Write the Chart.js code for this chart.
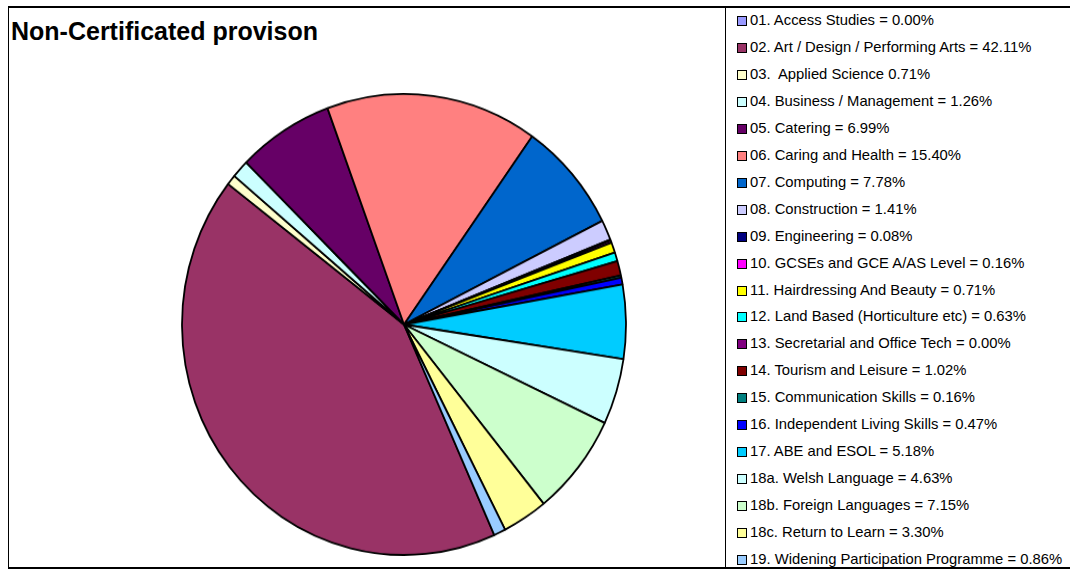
<!DOCTYPE html>
<html lang="en">
<head>
    <meta charset="UTF-8">
    <title>Non-Certificated provison</title>
    <style>
        body {
            margin: 0;
            background: #fff;
            font-family: "Liberation Sans", Arial, sans-serif;
            width: 1070px;
            height: 569px;
            overflow: hidden;
            position: relative;
        }
        .frame {
            position: absolute;
            left: 8px;
            top: 6px;
            width: 1100px;
            height: 559px;
            border-top: 2px solid #000;
            border-bottom: 2px solid #000;
            border-left: 1px solid #000;
        }
        .legend-box {
            position: absolute;
            left: 725px;
            top: 6px;
            height: 563px;
            border-left: 1px solid #000;
        }
        h1 {
            position: absolute;
            left: 11px;
            top: 16px;
            margin: 0;
            font-size: 25px;
            line-height: 30px;
            font-weight: bold;
        }
        #pieWrap {
            position: absolute;
            left: 181px;
            top: 93px;
        }
        #pieChart {
            width: 446px !important;
            height: 463px !important;
        }
        .legend-item {
            position: absolute;
            left: 737px;
            font-size: 14.8px;
            height: 20px;
            line-height: 20px;
            white-space: pre;
        }
        .legend-item span {
            display: inline-block;
            width: 8px;
            height: 8px;
            border: 1.5px solid #000;
            margin-right: 3px;
            vertical-align: -1px;
        }
    </style>
    <script src="https://cdn.jsdelivr.net/npm/chart.js"></script>
</head>
<body>
    <div class="frame"></div>
    <div class="legend-box"></div>
    <h1>Non-Certificated provison</h1>
    <div id="pieWrap"><canvas id="pieChart" width="446" height="446"></canvas></div>
    <div id="legend"></div>

    <script>
        const labels = [
            "01. Access Studies = 0.00%",
            "02. Art / Design / Performing Arts = 42.11%",
            "03.  Applied Science 0.71%",
            "04. Business / Management = 1.26%",
            "05. Catering = 6.99%",
            "06. Caring and Health = 15.40%",
            "07. Computing = 7.78%",
            "08. Construction = 1.41%",
            "09. Engineering = 0.08%",
            "10. GCSEs and GCE A/AS Level = 0.16%",
            "11. Hairdressing And Beauty = 0.71%",
            "12. Land Based (Horticulture etc) = 0.63%",
            "13. Secretarial and Office Tech = 0.00%",
            "14. Tourism and Leisure = 1.02%",
            "15. Communication Skills = 0.16%",
            "16. Independent Living Skills = 0.47%",
            "17. ABE and ESOL = 5.18%",
            "18a. Welsh Language = 4.63%",
            "18b. Foreign Languages = 7.15%",
            "18c. Return to Learn = 3.30%",
            "19. Widening Participation Programme = 0.86%"
        ];

        const shares = [0.00, 42.11, 0.71, 1.26, 6.99, 15.40, 7.78, 1.41, 0.08, 0.16, 0.71,
            0.63, 0.00, 1.02, 0.16, 0.47, 5.18, 4.63, 7.15, 3.30, 0.86];

        const colors = ["#9999FF", "#993366", "#FFFFCC", "#CCFFFF", "#660066", "#FF8080",
            "#0066CC", "#CCCCFF", "#000080", "#FF00FF", "#FFFF00", "#00FFFF", "#800080",
            "#800000", "#008080", "#0000FF", "#00CCFF", "#CCFFFF", "#CCFFCC", "#FFFF99", "#99CCFF"];

        // legend on the right, one row per category
        const legend = document.getElementById('legend');
        labels.forEach((text, i) => {
            const row = document.createElement('div');
            row.className = 'legend-item';
            row.style.top = (10 + i * 26.95) + 'px';
            const box = document.createElement('span');
            box.style.background = colors[i];
            row.appendChild(box);
            row.appendChild(document.createTextNode(text));
            legend.appendChild(row);
        });

        new Chart(document.getElementById('pieChart'), {
            type: 'pie',
            data: {
                labels: labels,
                datasets: [{
                    data: shares,
                    backgroundColor: colors,
                    borderColor: '#000',
                    borderWidth: 1.8,
                    radius: 222
                }]
            },
            options: {
                responsive: false,
                animation: false,
                rotation: 156,
                layout: { padding: 0 },
                plugins: {
                    legend: { display: false },
                    tooltip: { enabled: false }
                }
            }
        });
    </script>
</body>
</html>
